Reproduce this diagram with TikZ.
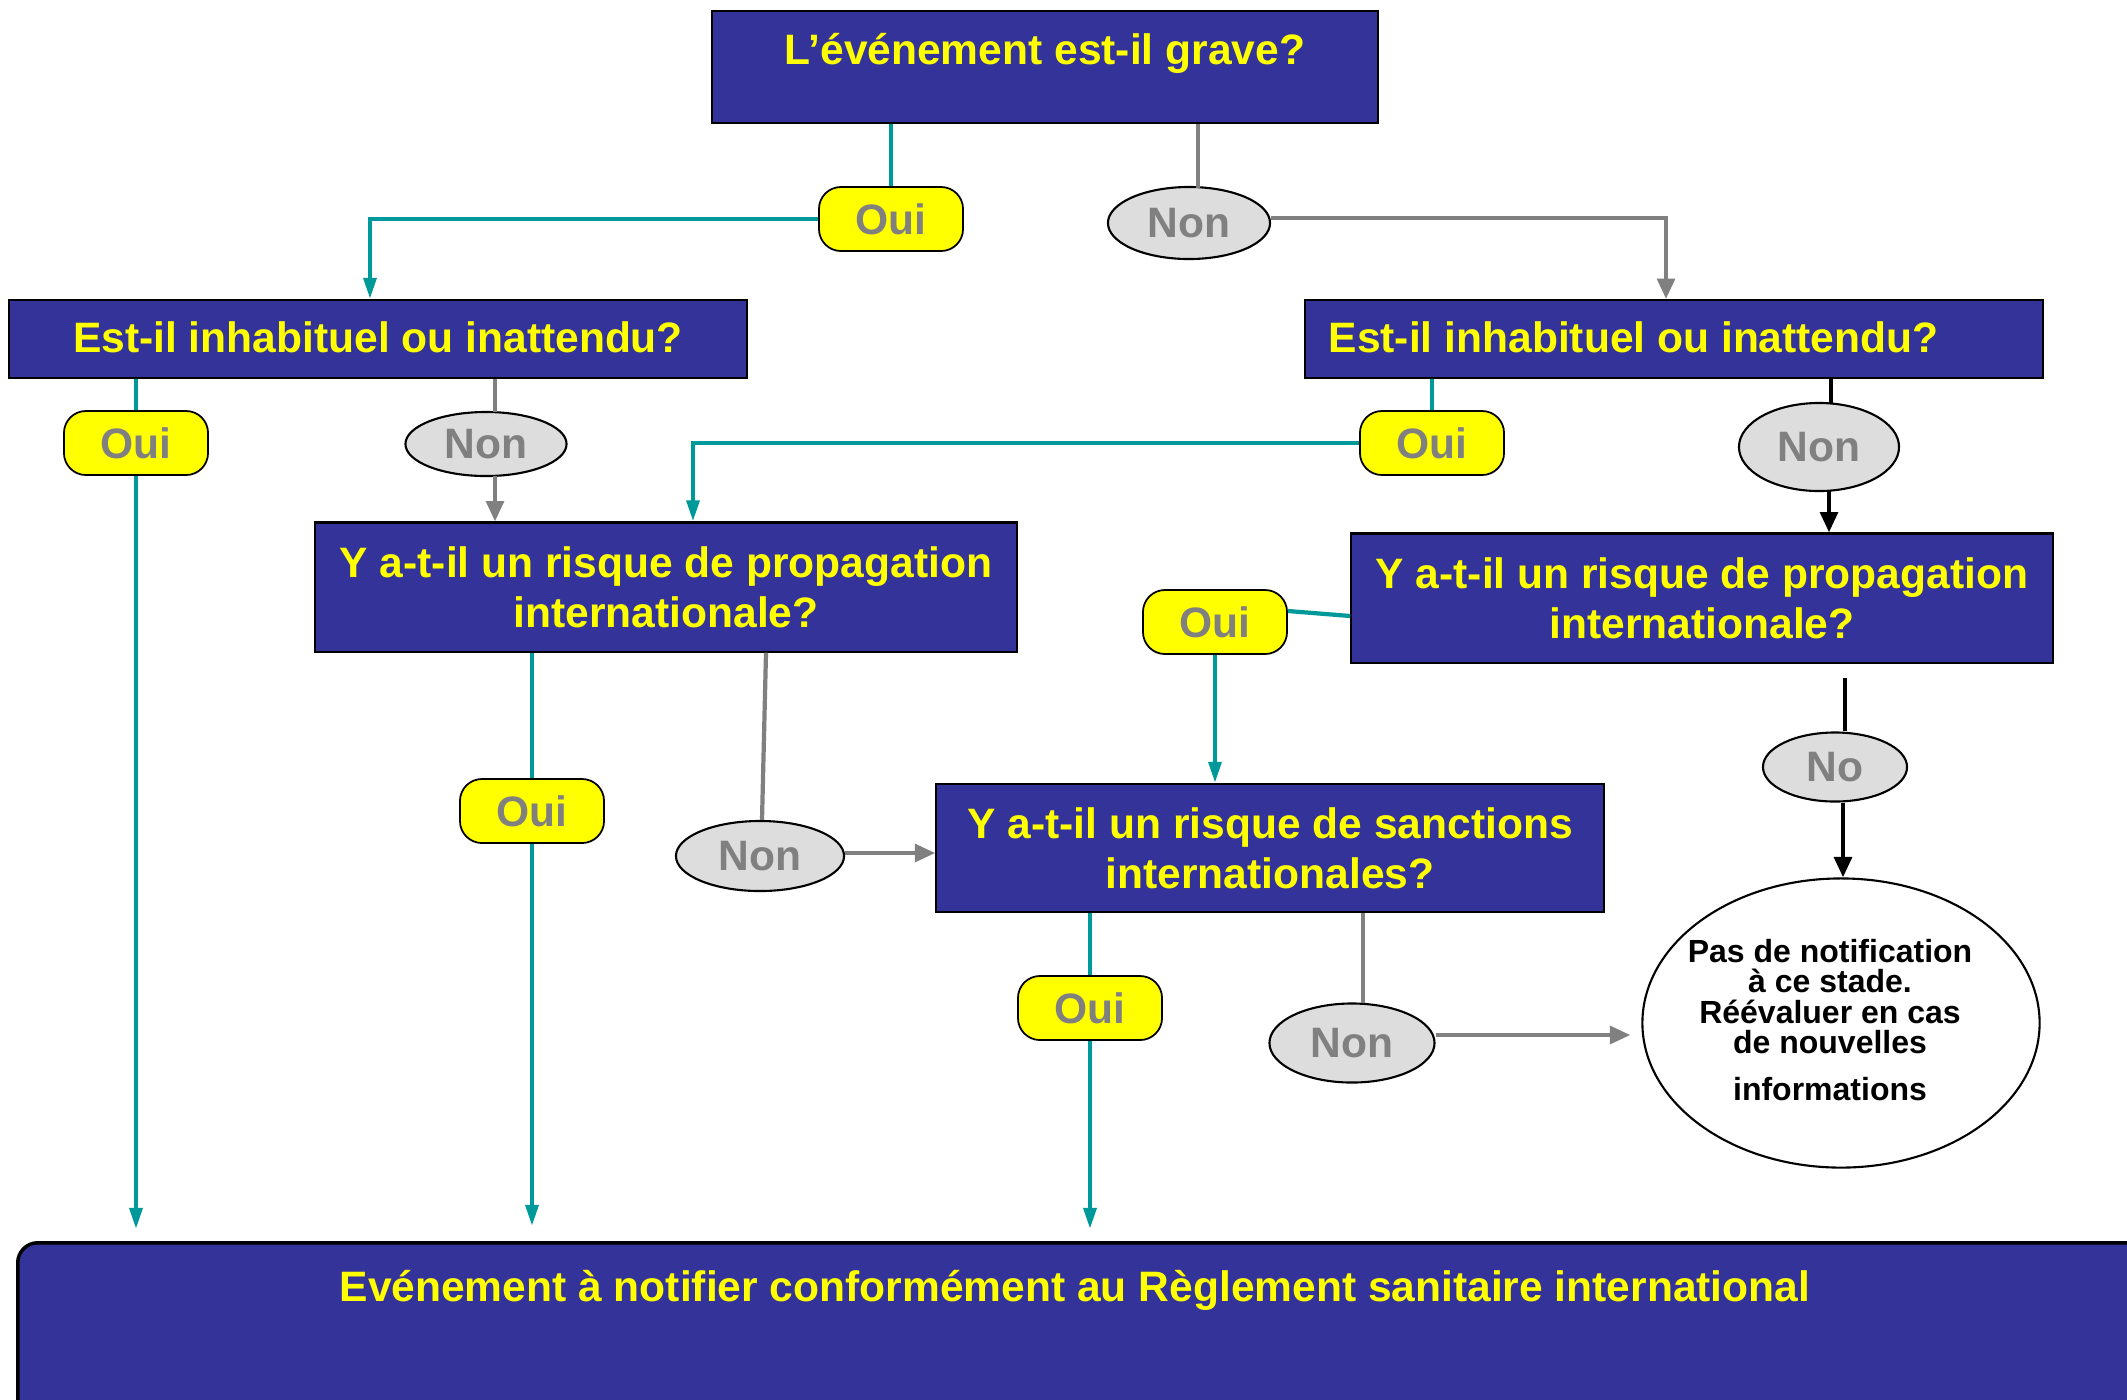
\documentclass[tikz,border=0pt]{standalone}
\usepackage{fontspec}
\setmainfont{Liberation Sans}
\usetikzlibrary{calc,arrows.meta,shapes.geometric}
\definecolor{boxblue}{HTML}{333399}
\definecolor{ylw}{HTML}{FFFF00}
\definecolor{tealc}{HTML}{009999}
\definecolor{grayc}{HTML}{808080}
\definecolor{nonfill}{HTML}{DDDDDD}
\newcommand{\qfont}{\fontsize{12.1}{14.2}\selectfont\bfseries}
\newcommand{\pasfont}{\fontsize{9.1}{8.6}\selectfont\bfseries}
\begin{document}
\begin{tikzpicture}[x=0.01cm,y=-0.01cm,
  qbox/.style={draw=black, line width=0.6pt, fill=boxblue, text=ylw, font=\qfont, align=center, inner sep=0pt},
  qtext/.style={text=ylw, font=\qfont, inner sep=0pt, align=center},
  ouibox/.style={draw=black, line width=0.5pt, fill=ylw, text=grayc, font=\qfont, rounded corners=0.22cm, minimum width=1.44cm, minimum height=0.64cm, inner sep=0pt},
  nonell/.style={ellipse, draw=black, line width=0.6pt, fill=nonfill, text=grayc, font=\qfont, inner sep=0pt},
  tline/.style={draw=tealc, line width=1.2pt},
  gline/.style={draw=grayc, line width=1.2pt},
  bline/.style={draw=black, line width=1.2pt},
  ttip/.style={-{Triangle[width=3.6pt,length=6pt]}},
  gtip/.style={-{Triangle[width=5pt,length=5.8pt]}},
]
\useasboundingbox (0,0) rectangle (2127,1399);
\clip (0,0) rectangle (2127,1399);
\fill[white] (0,0) rectangle (2127,1399);

% boxes
\node[qbox, minimum width=6.66cm, minimum height=1.12cm] (top) at (1045,67) {};
\node[qtext] (topt) at (1045,53) {L’événement est-il grave?};
\node[qbox, minimum width=7.38cm, minimum height=0.78cm] (estL) at (378,339) {};
\node[qtext] (estLt) at (378,337) {Est-il inhabituel ou inattendu?};
\node[qbox, minimum width=7.37cm, minimum height=0.78cm] (estR) at (1674,339) {};
\node[qtext, anchor=west] (estRt) at (1328,337) {Est-il inhabituel ou inattendu?};
\node[qbox, minimum width=7.02cm, minimum height=1.29cm] (propL) at (666,587) {Y a-t-il un risque de propagation\\internationale?};
\node[qbox, minimum width=7.01cm, minimum height=1.29cm] (propR) at (1702,598) {Y a-t-il un risque de propagation\\internationale?};
\node[qbox, minimum width=6.67cm, minimum height=1.28cm] (sanc) at (1270,848) {Y a-t-il un risque de sanctions\\internationales?};
\node[qbox, line width=1pt, rounded corners=0.2cm, minimum width=21.54cm, minimum height=2.1cm, anchor=north west] (final) at (16,1241) {};
\node[qtext] (finalt) at (1075,1290) {Evénement à notifier conformément au Règlement sanitaire international};

% ellipse
\node[ellipse, draw=black, line width=0.6pt, fill=white, minimum width=3.97cm, minimum height=2.89cm, inner sep=0pt] (pas) at (1841,1023) {};
\node[font=\pasfont, align=center, inner sep=0pt] (past) at (1830,1020) {Pas de notification\\à ce stade.\\Réévaluer en cas\\de nouvelles\\[4.8pt]informations};

% Oui / Non
\node[ouibox] (ouiA) at (891,219) {Oui};
\node[nonell, minimum width=1.62cm, minimum height=0.72cm] (nonA) at (1189,223) {Non};
\node[ouibox] (ouiB) at (136,443) {Oui};
\node[nonell, minimum width=1.61cm, minimum height=0.64cm] (nonB) at (486,444) {Non};
\node[ouibox] (ouiC) at (1432,443) {Oui};
\node[nonell, minimum width=1.60cm, minimum height=0.88cm] (nonC) at (1819,447) {Non};
\node[ouibox] (ouiD) at (1215,622) {Oui};
\node[ouibox] (ouiE) at (532,811) {Oui};
\node[nonell, minimum width=1.68cm, minimum height=0.70cm] (nonE) at (760,856) {Non};
\node[ouibox] (ouiF) at (1090,1008) {Oui};
\node[nonell, minimum width=1.65cm, minimum height=0.79cm] (nonF) at (1352,1043) {Non};
\node[nonell, minimum width=1.44cm, minimum height=0.69cm] (noG) at (1835,767) {No};

% connectors from top
\draw[tline] (top.south -| ouiA.north) -- (ouiA.north);
\draw[tline, ttip] (ouiA.west) -| ($(estL.north)+(-8,0)$);
\draw[gline] ($(top.south -| nonA.north)+(9,0)$) -- ($(nonA.north)+(9,2)$);
\draw[gline, gtip] ($(nonA.east)+(0,-5)$) -| ($(estR.north)+(-8,0)$);

% left column
\draw[tline] (estL.south -| ouiB.north) -- (ouiB.north);
\draw[tline, ttip] (ouiB.south) -- ($(ouiB.south |- final.north)+(0,-12)$);
\draw[gline] ($(estL.south -| nonB.north)+(9,0)$) -- ($(nonB.north)+(9,1)$);
\draw[gline, gtip] ($(nonB.south)+(9,-1)$) -- ($(nonB.south |- propL.north)+(9,0)$);

% propL
\draw[tline] (propL.south -| ouiE.north) -- (ouiE.north);
\draw[tline, ttip] (ouiE.south) -- ($(ouiE.south |- final.north)+(0,-15)$);
\draw[gline] ($(propL.south -| nonE.north)+(6,0)$) -- ($(nonE.north)+(2,0)$);
\draw[gline, gtip] ($(nonE.east)+(0,-3)$) -- ($(nonE.east -| sanc.west)+(0,-3)$);

% right column
\draw[tline] (estR.south -| ouiC.north) -- (ouiC.north);
\draw[tline, ttip] (ouiC.west) -| ($(propL.north)+(27,0)$);
\draw[bline] ($(estR.south -| nonC.north)+(12,0)$) -- ($(nonC.north)+(12,1)$);
\draw[bline, gtip] ($(nonC.south)+(10,-1)$) -- ($(nonC.south |- propR.north)+(10,0)$);
\draw[tline] ($(ouiD.east)+(0,-11)$) -- ($(propR.west)+(0,18)$);
\draw[tline, ttip] (ouiD.south) -- (ouiD.south |- sanc.north);

% sanctions
\draw[tline] (sanc.south -| ouiF.north) -- (ouiF.north);
\draw[tline, ttip] (ouiF.south) -- ($(ouiF.south |- final.north)+(0,-12)$);
\draw[gline] ($(sanc.south -| nonF.north)+(11,0)$) -- ($(nonF.north)+(11,1)$);
\draw[gline, gtip] ($(nonF.east)+(0,-8)$) -- ($(nonF.east -| pas.west)+(-11,-8)$);

% No branch
\draw[bline] ($(propR.south -| pas.north)+(4,14)$) -- ($(noG.north -| pas.north)+(4,0)$);
\draw[bline, gtip] ($(noG.south -| pas.north)+(2,0)$) -- ($(pas.north)+(2,0)$);
\end{tikzpicture}
\end{document}
